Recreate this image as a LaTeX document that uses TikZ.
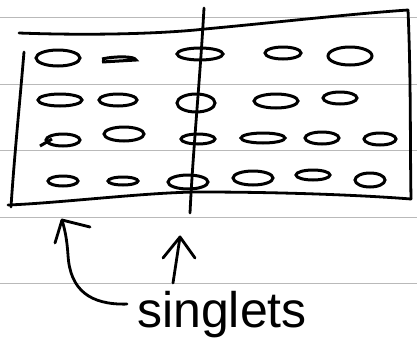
\documentclass[tikz,border=0pt]{standalone}
\usepackage{fontspec}
\setmainfont{Liberation Sans}
\begin{document}
\begin{tikzpicture}[x=1pt,y=-1pt,
  rule/.style={gray!55,line width=1pt},
  ink/.style={black,line width=2.8pt,line cap=round,line join=round},
  blob/.style={black,line width=3pt}]
\useasboundingbox (0,0) rectangle (417,343);
% ruled paper lines
\foreach \y in {17,84,150,217,283} \draw[rule] (0,\y) -- (417,\y);
% box
\draw[ink] (19,33) .. controls (100,36) and (170,33) .. (205,29) .. controls (280,22) and (350,14) .. (408,10);
\draw[ink] (408,10) .. controls (411,80) and (410,140) .. (411,199);
\draw[ink] (24,52) .. controls (20,100) and (14,160) .. (11,207);
\draw[ink] (8,205) .. controls (60,203) and (150,192) .. (200,192) .. controls (280,192) and (360,195) .. (411,199);
% vertical line
\draw[ink] (204,8) .. controls (200,80) and (193,150) .. (190,213);
% row 1
\draw[blob] (58,58) ellipse (22 and 8);
\draw[blob] (102,59) .. controls (115,56) and (135,56) .. (136,60) -- (102,62);
\draw[blob] (200,54) ellipse (23 and 6);
\draw[blob] (283,53) ellipse (18 and 6);
\draw[blob] (350,56) ellipse (22 and 9);
% row 2
\draw[blob] (60,100) ellipse (22 and 6);
\draw[blob] (118,100) ellipse (19 and 6);
\draw[blob] (196,103) ellipse (19 and 9);
\draw[blob] (276,101) ellipse (22 and 7);
\draw[blob] (340,98) ellipse (17 and 6);
% row 3
\draw[blob] (63,140) ellipse (17 and 6);
\draw[blob] (40,146) -- (52,139);
\draw[blob] (124,134) ellipse (20 and 7);
\draw[blob] (198,139) ellipse (17 and 5);
\draw[blob] (263,138) ellipse (22 and 5);
\draw[blob] (322,138) ellipse (17 and 6);
\draw[blob] (380,139) ellipse (16 and 6);
% row 4
\draw[blob] (63,181) ellipse (15 and 5);
\draw[blob] (123,181) ellipse (15 and 4);
\draw[blob] (188,182) ellipse (20 and 7);
\draw[blob] (253,178) ellipse (20 and 7);
\draw[blob] (313,175) ellipse (17 and 5);
\draw[blob] (370,180) ellipse (15 and 7);
% label
\node[font=\fontsize{50}{50}\selectfont,anchor=base west,inner sep=0pt] (lbl) at (137,327) {singlets};
% arrows
\coordinate (t1) at (62,220);
\coordinate (t2) at (180,237);
\draw[ink] (lbl.west) ++(-10,-10) .. controls (90,305) and (70,290) .. (68,255) .. controls (67,240) and (65,230) .. (t1);
\draw[ink] (55,243) -- (t1) -- (90,227);
\draw[ink] (173,283) -- (t2);
\draw[ink] (163,258) -- (t2) -- (195,258);
\end{tikzpicture}
\end{document}
